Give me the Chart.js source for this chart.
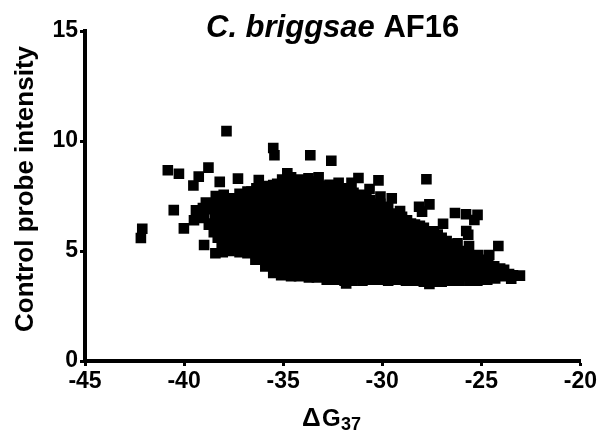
<!DOCTYPE html>
<html>
<head>
<meta charset="utf-8">
<title>C. briggsae AF16</title>
<script src="https://cdn.jsdelivr.net/npm/chart.js@4/dist/chart.umd.min.js"></script>
<style>
html, body { margin: 0; padding: 0; background: #fff; }
#wrap { width: 599px; height: 431px; }
</style>
</head>
<body>
<div id="wrap"><canvas id="probeChart" width="599" height="431"></canvas></div>
<script>
// values, [deltaG, intensity]
const xTicks = [-45, -40, -35, -30, -25, -20];
const yTicks = [0, 5, 10, 15];

const outlierProbes = [
  [-37.86,10.45],[-35.5,9.68],[-35.44,9.35],[-33.63,9.35],[-32.57,9.1],[-40.82,8.67],[-40.26,8.51],
  [-38.77,8.79],[-39.26,8.38],[-39.53,7.98],[-38.2,8.14],[-37.28,8.29],[-36.23,8.23],[-34.79,8.53],
  [-40.52,6.86],[-42.11,6.01],[-42.18,5.59],[-40.01,6.03],[-38.99,5.27],[-38.42,4.9],
  [-31.2,8.32],[-30.19,8.21],[-27.77,8.26],[-30.64,7.82],[-33.21,8.35],[-33.72,8.3],[-32.66,8.01],
  [-32.2,8.1],[-31.55,8.1],[-30.09,7.47],[-29.52,7.39],[-29.1,6.82],[-28.14,7.01],[-27.62,7.12],
  [-27.99,6.79],[-26.33,6.73],[-25.77,6.67],[-25.19,6.64],[-25.35,6.41],[-26.93,6.24],[-25.76,5.91],
  [-25.66,5.74],[-25.62,5.23],[-24.14,5.23],[-26.2,5.35],[-24.6,4.82],[-25.15,4.82],[-23.05,3.88],
  [-23.49,3.74],[-31.82,3.53],[-27.62,3.5]
];

const leftProbes = [
  [-39.5,6.4],[-39.4,6.85],[-39.0,6.5],[-39.05,6.95],[-38.9,7.2],
  [-38.5,5.85],[-38.55,6.25],[-38.45,6.65],[-38.5,7.05],[-38.4,7.5],
  [-38.1,5.25],[-38.05,4.95],[-38.05,5.65],[-38.15,6.05],[-38.1,6.45],[-38.0,6.85],[-38.1,7.25],[-38.0,7.55],
  [-37.7,5.0],[-37.65,5.4],[-37.75,5.8],[-37.7,6.2],[-37.6,6.6],[-37.7,7.0],[-37.65,7.4],
  [-37.2,4.95],[-37.25,5.35],[-37.15,5.75],[-37.2,6.15],[-37.25,6.55],[-37.15,6.95],[-37.2,7.35],[-37.2,7.6],
  [-36.8,4.9],[-36.75,5.3],[-36.85,5.7],[-36.8,6.1],[-36.7,6.5],[-36.8,6.9],[-36.75,7.3],[-36.8,7.7],
  [-36.4,4.6],[-36.35,5.0],[-36.45,5.4],[-36.4,5.8],[-36.3,6.2],[-36.4,6.6],[-36.35,7.0],[-36.4,7.4],[-36.35,7.85],
  [-35.9,4.3],[-35.95,4.7],[-35.85,5.1],[-35.9,5.5],[-35.95,5.9],[-35.85,6.3],[-35.9,6.7],[-35.95,7.1],[-35.9,7.5],[-35.85,7.95],
  [-35.5,4.0],[-35.45,4.4],[-35.55,4.8],[-35.5,5.2],[-35.4,5.6],[-35.5,6.0],[-35.45,6.4],[-35.55,6.8],[-35.5,7.2],[-35.45,7.6],[-35.5,8.0],
  [-35.1,3.9],[-35.05,4.3],[-35.15,4.7],[-35.1,5.1],[-35.05,5.5],[-35.15,5.9],[-35.1,6.3],[-35.05,6.7],[-35.1,7.1],[-35.15,7.5],[-35.1,7.9],[-35.05,8.25],
  [-34.6,3.85],[-34.65,4.25],[-34.55,4.65],[-34.6,5.05],[-34.65,5.45],[-34.55,5.85],[-34.6,6.25],[-34.65,6.65],[-34.55,7.05],[-34.6,7.45],[-34.65,7.85],[-34.6,8.35],
  [-34.2,3.85],[-34.15,4.25],[-34.25,4.65],[-34.2,5.05],[-34.15,5.45],[-34.25,5.85],[-34.2,6.25],[-34.15,6.65],[-34.25,7.05],[-34.2,7.45],[-34.15,7.85],[-34.2,8.25]
];

const middleProbes = [
  [-33.7,3.8],[-33.75,4.2],[-33.65,4.6],[-33.7,5.0],[-33.75,5.4],[-33.65,5.8],[-33.7,6.2],[-33.75,6.6],[-33.65,7.0],[-33.7,7.4],[-33.75,7.8],[-33.7,8.15],
  [-33.3,3.8],[-33.25,4.2],[-33.35,4.6],[-33.3,5.0],[-33.25,5.4],[-33.35,5.8],[-33.3,6.2],[-33.25,6.6],[-33.35,7.0],[-33.3,7.4],[-33.25,7.8],[-33.3,8.15],
  [-32.8,3.7],[-32.85,4.1],[-32.75,4.5],[-32.8,4.9],[-32.85,5.3],[-32.75,5.7],[-32.8,6.1],[-32.85,6.5],[-32.75,6.9],[-32.8,7.3],[-32.85,7.65],[-32.8,7.95],
  [-32.4,3.7],[-32.35,4.1],[-32.45,4.5],[-32.4,4.9],[-32.35,5.3],[-32.45,5.7],[-32.4,6.1],[-32.35,6.5],[-32.45,6.9],[-32.4,7.3],[-32.35,7.65],[-32.4,7.95],
  [-31.9,3.65],[-31.95,4.05],[-31.85,4.45],[-31.9,4.85],[-31.95,5.25],[-31.85,5.65],[-31.9,6.05],[-31.95,6.45],[-31.85,6.85],[-31.9,7.25],[-31.95,7.55],[-31.9,7.85],
  [-31.5,3.65],[-31.45,4.05],[-31.55,4.45],[-31.5,4.85],[-31.45,5.25],[-31.55,5.65],[-31.5,6.05],[-31.45,6.45],[-31.55,6.85],[-31.5,7.25],[-31.45,7.65],
  [-31.0,3.65],[-31.05,4.05],[-30.95,4.45],[-31.0,4.85],[-31.05,5.25],[-30.95,5.65],[-31.0,6.05],[-31.05,6.45],[-30.95,6.85],[-31.0,7.2],[-31.05,7.55],
  [-30.6,3.7],[-30.55,4.1],[-30.65,4.5],[-30.6,4.9],[-30.55,5.3],[-30.65,5.7],[-30.6,6.1],[-30.55,6.5],[-30.65,6.9],[-30.6,7.3],
  [-30.1,3.7],[-30.15,4.1],[-30.05,4.5],[-30.1,4.9],[-30.15,5.3],[-30.05,5.7],[-30.1,6.1],[-30.15,6.5],[-30.05,6.85],[-30.1,7.15],
  [-29.7,3.65],[-29.65,4.05],[-29.75,4.45],[-29.7,4.85],[-29.65,5.25],[-29.75,5.65],[-29.7,6.05],[-29.65,6.45],[-29.75,6.8],[-29.7,7.0],
  [-29.2,3.7],[-29.25,4.1],[-29.15,4.5],[-29.2,4.9],[-29.25,5.3],[-29.15,5.7],[-29.2,6.1],[-29.25,6.45],[-29.2,6.7]
];

const rightProbes = [
  [-28.8,3.65],[-28.75,4.05],[-28.85,4.45],[-28.8,4.85],[-28.75,5.25],[-28.85,5.65],[-28.8,6.05],[-28.75,6.4],
  [-28.3,3.65],[-28.35,4.05],[-28.25,4.45],[-28.3,4.85],[-28.35,5.25],[-28.25,5.65],[-28.3,6.0],[-28.35,6.2],
  [-27.9,3.6],[-27.85,4.0],[-27.95,4.4],[-27.9,4.8],[-27.85,5.2],[-27.95,5.6],[-27.9,6.05],
  [-27.4,3.6],[-27.45,4.0],[-27.35,4.4],[-27.4,4.8],[-27.45,5.2],[-27.35,5.6],[-27.4,5.9],
  [-27.0,3.6],[-26.95,4.0],[-27.05,4.4],[-27.0,4.8],[-26.95,5.2],[-27.0,5.6],
  [-26.5,3.65],[-26.55,4.05],[-26.45,4.45],[-26.5,4.85],[-26.55,5.3],
  [-26.1,3.65],[-26.05,4.05],[-26.15,4.45],[-26.1,4.75],[-26.05,5.0],
  [-25.6,3.65],[-25.65,4.05],[-25.55,4.45],[-25.6,4.8],
  [-25.2,3.65],[-25.15,4.05],[-25.25,4.4],[-25.2,4.65],
  [-24.7,3.7],[-24.75,4.1],[-24.65,4.5],
  [-24.3,3.75],[-24.25,4.05],[-24.35,4.3],
  [-23.8,3.85],[-23.85,4.15],
  [-23.4,3.9]
];

// the cloud is solid in the picture, these sit in the seams between the ones above
const seamProbes = [
  [-39.2,6.7],[-38.75,6.2],[-38.75,6.9],
  [-38.3,5.6],[-38.3,6.0],[-38.3,6.4],[-38.3,6.8],[-38.3,7.2],
  [-37.9,5.3],[-37.9,5.9],[-37.9,6.5],[-37.9,7.1],
  [-37.45,5.2],[-37.45,5.6],[-37.45,6.0],[-37.45,6.4],[-37.45,6.8],[-37.45,7.2],
  [-37.0,5.15],[-37.0,5.55],[-37.0,5.95],[-37.0,6.35],[-37.0,6.75],[-37.0,7.15],[-37.0,7.5],
  [-36.6,4.95],[-36.6,5.35],[-36.6,5.75],[-36.6,6.15],[-36.6,6.55],[-36.6,6.95],[-36.6,7.35],[-36.6,7.7],
  [-36.15,4.65],[-36.15,5.05],[-36.15,5.45],[-36.15,5.85],[-36.15,6.25],[-36.15,6.65],[-36.15,7.05],[-36.15,7.45],[-36.15,7.8],
  [-35.7,4.35],[-35.7,4.75],[-35.7,5.15],[-35.7,5.55],[-35.7,5.95],[-35.7,6.35],[-35.7,6.75],[-35.7,7.15],[-35.7,7.55],[-35.7,7.9],
  [-35.3,4.15],[-35.3,4.55],[-35.3,4.95],[-35.3,5.35],[-35.3,5.75],[-35.3,6.15],[-35.3,6.55],[-35.3,6.95],[-35.3,7.35],[-35.3,7.75],[-35.3,8.05],
  [-34.85,4.05],[-34.85,4.45],[-34.85,4.85],[-34.85,5.25],[-34.85,5.65],[-34.85,6.05],[-34.85,6.45],[-34.85,6.85],[-34.85,7.25],[-34.85,7.65],[-34.85,8.1],
  [-34.4,4.05],[-34.4,4.45],[-34.4,4.85],[-34.4,5.25],[-34.4,5.65],[-34.4,6.05],[-34.4,6.45],[-34.4,6.85],[-34.4,7.25],[-34.4,7.65],[-34.4,8.05],
  [-33.95,4.0],[-33.95,4.4],[-33.95,4.8],[-33.95,5.2],[-33.95,5.6],[-33.95,6.0],[-33.95,6.4],[-33.95,6.8],[-33.95,7.2],[-33.95,7.6],[-33.95,8.0],
  [-33.5,4.0],[-33.5,4.4],[-33.5,4.8],[-33.5,5.2],[-33.5,5.6],[-33.5,6.0],[-33.5,6.4],[-33.5,6.8],[-33.5,7.2],[-33.5,7.6],[-33.5,8.0],
  [-33.05,3.95],[-33.05,4.35],[-33.05,4.75],[-33.05,5.15],[-33.05,5.55],[-33.05,5.95],[-33.05,6.35],[-33.05,6.75],[-33.05,7.15],[-33.05,7.55],[-33.05,7.95],
  [-32.6,3.9],[-32.6,4.3],[-32.6,4.7],[-32.6,5.1],[-32.6,5.5],[-32.6,5.9],[-32.6,6.3],[-32.6,6.7],[-32.6,7.1],[-32.6,7.5],[-32.6,7.85],
  [-32.15,3.85],[-32.15,4.25],[-32.15,4.65],[-32.15,5.05],[-32.15,5.45],[-32.15,5.85],[-32.15,6.25],[-32.15,6.65],[-32.15,7.05],[-32.15,7.45],[-32.15,7.8],
  [-31.7,3.85],[-31.7,4.25],[-31.7,4.65],[-31.7,5.05],[-31.7,5.45],[-31.7,5.85],[-31.7,6.25],[-31.7,6.65],[-31.7,7.05],[-31.7,7.45],[-31.7,7.7],
  [-31.25,3.85],[-31.25,4.25],[-31.25,4.65],[-31.25,5.05],[-31.25,5.45],[-31.25,5.85],[-31.25,6.25],[-31.25,6.65],[-31.25,7.05],[-31.25,7.45],
  [-30.8,3.9],[-30.8,4.3],[-30.8,4.7],[-30.8,5.1],[-30.8,5.5],[-30.8,5.9],[-30.8,6.3],[-30.8,6.7],[-30.8,7.1],[-30.8,7.4],
  [-30.35,3.9],[-30.35,4.3],[-30.35,4.7],[-30.35,5.1],[-30.35,5.5],[-30.35,5.9],[-30.35,6.3],[-30.35,6.7],[-30.35,7.1],
  [-29.9,3.85],[-29.9,4.25],[-29.9,4.65],[-29.9,5.05],[-29.9,5.45],[-29.9,5.85],[-29.9,6.25],[-29.9,6.65],[-29.9,7.0],
  [-29.45,3.85],[-29.45,4.25],[-29.45,4.65],[-29.45,5.05],[-29.45,5.45],[-29.45,5.85],[-29.45,6.25],[-29.45,6.65],
  [-29.0,3.85],[-29.0,4.25],[-29.0,4.65],[-29.0,5.05],[-29.0,5.45],[-29.0,5.85],[-29.0,6.25],[-29.0,6.55],
  [-28.55,3.85],[-28.55,4.25],[-28.55,4.65],[-28.55,5.05],[-28.55,5.45],[-28.55,5.85],[-28.55,6.25],
  [-28.1,3.8],[-28.1,4.2],[-28.1,4.6],[-28.1,5.0],[-28.1,5.4],[-28.1,5.8],[-28.1,6.15],
  [-27.65,3.8],[-27.65,4.2],[-27.65,4.6],[-27.65,5.0],[-27.65,5.4],[-27.65,5.8],
  [-27.2,3.8],[-27.2,4.2],[-27.2,4.6],[-27.2,5.0],[-27.2,5.4],[-27.2,5.75],
  [-26.75,3.85],[-26.75,4.25],[-26.75,4.65],[-26.75,5.05],[-26.75,5.45],
  [-26.3,3.85],[-26.3,4.25],[-26.3,4.65],[-26.3,5.05],
  [-25.85,3.85],[-25.85,4.25],[-25.85,4.65],[-25.85,4.9],
  [-25.4,3.85],[-25.4,4.25],[-25.4,4.6],
  [-24.95,3.9],[-24.95,4.3],[-24.95,4.6],
  [-24.5,3.9],[-24.5,4.3],
  [-24.05,3.95],[-24.05,4.2],
  [-23.6,3.95]
];

const allProbes = outlierProbes.concat(leftProbes, middleProbes, rightProbes, seamProbes);

const FONT = '"Liberation Sans", Arial, sans-serif';

// title and axis names mix styles or sit off centre, chart.js titles can't do that
const mixedLabels = {
  id: 'mixedLabels',
  afterDraw(chart) {
    const c = chart.ctx;
    c.save();
    c.fillStyle = '#000';
    c.textBaseline = 'alphabetic';
    c.textAlign = 'left';
    c.font = 'italic bold 31px ' + FONT;
    c.fillText('C. briggsae', 206, 37);
    const w = c.measureText('C. briggsae ').width;
    c.font = 'bold 31px ' + FONT;
    c.fillText('AF16', 206 + w, 37);

    c.font = 'bold 26px ' + FONT;
    c.fillText('\u0394', 302, 426);
    c.font = 'bold 24px ' + FONT;
    c.fillText('G', 322, 426);
    c.font = 'bold 18px ' + FONT;
    c.fillText('37', 341, 430);

    c.translate(33, 189);
    c.rotate(-Math.PI / 2);
    c.textAlign = 'center';
    c.font = 'bold 26px ' + FONT;
    c.fillText('Control probe intensity', 0, 0);
    c.restore();
  }
};

new Chart(document.getElementById('probeChart').getContext('2d'), {
  type: 'scatter',
  data: {
    datasets: [{
      label: 'Control probes',
      data: allProbes.map(p => ({ x: p[0], y: p[1] })),
      pointStyle: 'rect',
      pointRadius: 7.5,
      pointBorderWidth: 0,
      backgroundColor: '#000'
    }]
  },
  options: {
    responsive: false,
    animation: false,
    layout: { padding: { top: 31, right: 18, left: 0, bottom: 0 } },
    plugins: { legend: { display: false }, tooltip: { enabled: false } },
    scales: {
      x: {
        type: 'linear',
        min: -45,
        max: -20,
        afterBuildTicks(axis) { axis.ticks = xTicks.map(v => ({ value: v })); },
        afterFit(axis) { axis.height = 70; },
        grid: { drawOnChartArea: false, drawTicks: true, tickColor: '#000', tickWidth: 3, tickLength: 5 },
        border: { color: '#000', width: 4 },
        ticks: { color: '#000', font: { family: FONT, size: 23, weight: 'bold' }, maxRotation: 0, padding: 2, autoSkip: false }
      },
      y: {
        min: 0,
        max: 15,
        afterBuildTicks(axis) { axis.ticks = yTicks.map(v => ({ value: v })); },
        afterFit(axis) { axis.width = 85; },
        grid: { drawOnChartArea: false, drawTicks: true, tickColor: '#000', tickWidth: 3, tickLength: 5 },
        border: { color: '#000', width: 4 },
        ticks: { color: '#000', font: { family: FONT, size: 23, weight: 'bold' }, padding: 2, autoSkip: false }
      }
    }
  },
  plugins: [mixedLabels]
});
</script>
</body>
</html>
